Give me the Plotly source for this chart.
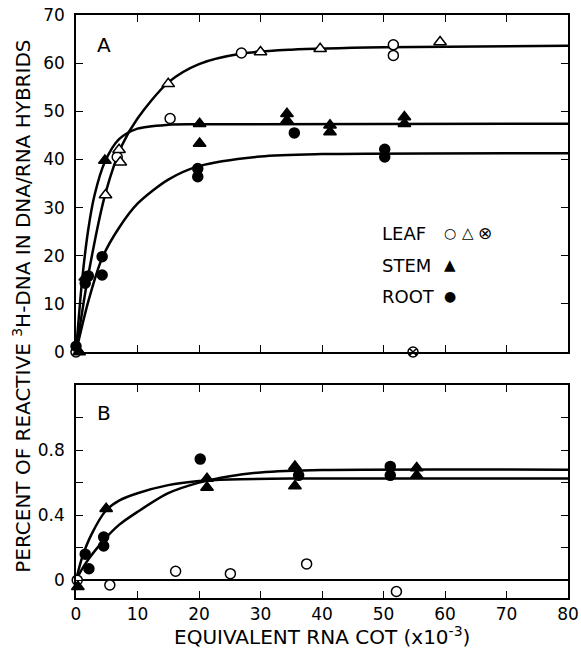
import plotly.graph_objects as go

# ---------------- panel A: % hybridised vs equivalent RNA Cot ----------------
leaf_circ_x = [0, 6.7, 15.3, 26.9, 51.6, 51.6]
leaf_circ_y = [0, 40.5, 48.5, 62.1, 63.8, 61.6]
leaf_tri_x = [4.8, 7.0, 7.2, 15.0, 30.0, 39.7, 59.2]
leaf_tri_y = [32.6, 42.0, 39.4, 55.7, 62.3, 63.0, 64.4]
leaf_cross_x = [54.8]
leaf_cross_y = [0]
stem_a_x = [0.5, 1.5, 4.7, 20.1, 20.1, 34.3, 34.3, 41.3, 41.3, 53.4, 53.4]
stem_a_y = [0, 15.5, 39.8, 47.4, 43.3, 49.5, 48.1, 47.1, 45.7, 48.8, 47.4]
root_a_x = [0, 1.5, 2.0, 4.25, 4.25, 19.8, 19.8, 35.5, 50.2, 50.2]
root_a_y = [1.2, 14.3, 15.8, 19.8, 16.0, 38.1, 36.4, 45.5, 42.1, 40.5]

# fitted curves
leaf_fit_x = [0, 2, 4.8, 7.5, 10, 15, 20, 27, 35, 50, 80]
leaf_fit_y = [0, 16, 33, 43, 48.5, 56, 59.8, 62, 62.8, 63.3, 63.6]
stem_fit_x = [0, 1, 2, 3, 4.7, 7, 10, 15, 20, 80]
stem_fit_y = [0, 15, 25.5, 32.5, 39.5, 44.2, 46.4, 47.2, 47.3, 47.4]
root_fit_x = [0, 2, 4.25, 7, 10, 15, 20, 30, 40, 80]
root_fit_y = [0, 10.5, 19.5, 25.8, 30.8, 35.8, 38.6, 40.6, 41.1, 41.3]

# ---------------- panel B ----------------
leaf_b_x = [0.2, 5.5, 16.2, 25.1, 37.5, 52.1]
leaf_b_y = [0, -0.03, 0.055, 0.04, 0.10, -0.07]
stem_b_x = [0.3, 4.9, 21.3, 21.3, 35.6, 35.6, 55.4, 55.4]
stem_b_y = [-0.04, 0.44, 0.625, 0.57, 0.70, 0.58, 0.69, 0.645]
root_b_x = [1.5, 2.1, 4.5, 4.5, 20.2, 36.2, 51.1, 51.1]
root_b_y = [0.16, 0.07, 0.265, 0.21, 0.745, 0.645, 0.70, 0.645]

stem_bfit_x = [0, 1, 2.5, 4.9, 7, 10, 15, 20, 25, 35, 80]
stem_bfit_y = [0, 0.14, 0.28, 0.43, 0.49, 0.535, 0.585, 0.61, 0.62, 0.625, 0.625]
root_bfit_x = [0, 1.5, 4.5, 7, 10, 15, 20, 25, 30, 40, 80]
root_bfit_y = [0, 0.1, 0.245, 0.34, 0.42, 0.535, 0.6, 0.64, 0.663, 0.678, 0.68]

x_ticks = [0, 10, 20, 30, 40, 50, 60, 70, 80]
a_ticks = [0, 10, 20, 30, 40, 50, 60, 70]
b_ticks = [0, 0.4, 0.8]
b_minor = [0.2, 0.6, 1.0]

FONT = "DejaVu Sans"
INK = "black"

fig = go.Figure()


def curve(x, y, xa, ya):
    fig.add_trace(go.Scatter(x=x, y=y, mode="lines", xaxis=xa, yaxis=ya,
                             line=dict(color=INK, width=2.5, shape="spline", smoothing=0.8),
                             hoverinfo="skip"))


def pts(x, y, symbol, xa, ya, size=10, fill=INK):
    fig.add_trace(go.Scatter(x=x, y=y, mode="markers", xaxis=xa, yaxis=ya, cliponaxis=False,
                             marker=dict(symbol=symbol, size=size, color=fill,
                                         line=dict(color=INK, width=1.5))))


curve(leaf_fit_x, leaf_fit_y, "x", "y")
curve(stem_fit_x, stem_fit_y, "x", "y")
curve(root_fit_x, root_fit_y, "x", "y")
pts(leaf_circ_x, leaf_circ_y, "circle", "x", "y", 10, "white")
pts(leaf_tri_x, leaf_tri_y, "triangle-up", "x", "y", 11, "white")
pts(leaf_cross_x, leaf_cross_y, "circle-x", "x", "y", 10, "white")
pts(stem_a_x, stem_a_y, "triangle-up", "x", "y", 11)
pts(root_a_x, root_a_y, "circle", "x", "y")

curve(stem_bfit_x, stem_bfit_y, "x2", "y2")
curve(root_bfit_x, root_bfit_y, "x2", "y2")
pts(leaf_b_x, leaf_b_y, "circle", "x2", "y2", 10, "white")
pts(stem_b_x, stem_b_y, "triangle-up", "x2", "y2", 11)
pts(root_b_x, root_b_y, "circle", "x2", "y2")

axis_common = dict(showgrid=False, zeroline=False, showline=True, linecolor=INK, linewidth=1.5,
                   mirror="ticks", ticks="inside", ticklen=7, tickwidth=1.2, tickcolor=INK,
                   automargin=False, ticklabeloverflow="allow",
                   tickfont=dict(family=FONT, size=17, color=INK))

fig.update_layout(
    width=581, height=648,
    margin=dict(l=76, r=13, t=15, b=50),
    paper_bgcolor="white", plot_bgcolor="white",
    showlegend=False,
    font=dict(family=FONT, color=INK),
    xaxis=dict(axis_common, range=[0, 80], tickvals=x_ticks, showticklabels=False,
               domain=[0, 1], anchor="y"),
    yaxis=dict(axis_common, range=[0, 70], tickvals=a_ticks, domain=[0.422, 1], anchor="x",
               ticklabelstandoff=6),
    xaxis2=dict(axis_common, range=[0, 80], tickvals=x_ticks, domain=[0, 1], anchor="y2",
                ticklabelstandoff=0),
    yaxis2=dict(axis_common, range=[-0.11, 1.2], tickvals=b_ticks,
                minor=dict(tickvals=b_minor, ticks="inside", ticklen=7, tickwidth=1.2, tickcolor=INK),
                domain=[0, 0.365], anchor="x2", zeroline=True, zerolinecolor=INK,
                zerolinewidth=1.5, ticklabelstandoff=6),
)

ann = [
    dict(text="A", x=0.039, y=0.949, xanchor="left", font=dict(size=20)),
    dict(text="B", x=0.039, y=0.317, xanchor="left", font=dict(size=20)),
    dict(text="PERCENT OF REACTIVE <sup>3</sup>H-DNA IN DNA/RNA HYBRIDS", x=-0.11, y=0.501,
         xanchor="center", textangle=-90, font=dict(size=20)),
    dict(text="EQUIVALENT RNA COT (x10<sup>-3</sup>)", x=0.5, y=-0.066, xanchor="center",
         font=dict(size=20)),
    dict(text="LEAF", x=0.618, y=0.626, xanchor="left", font=dict(size=18)),
    dict(text="STEM", x=0.618, y=0.571, xanchor="left", font=dict(size=18)),
    dict(text="ROOT", x=0.618, y=0.518, xanchor="left", font=dict(size=18)),
    dict(text="○", x=0.760, y=0.626, xanchor="center", font=dict(size=14)),
    dict(text="△", x=0.797, y=0.626, xanchor="center", font=dict(size=15)),
    dict(text="⊗", x=0.831, y=0.626, xanchor="center", font=dict(size=17)),
    dict(text="▲", x=0.760, y=0.571, xanchor="center", font=dict(size=15)),
    dict(text="●", x=0.760, y=0.518, xanchor="center", font=dict(size=14)),
]
for a in ann:
    a.update(showarrow=False, xref="paper", yref="paper", yanchor="middle")
    a["font"].update(family=FONT, color=INK)
    fig.add_annotation(**a)

# drop the default 8px page margin so the 581x648 figure fills the window exactly
fig.write_html("out.html", config={"displayModeBar": False},
               post_script="document.body.style.margin='0';")
